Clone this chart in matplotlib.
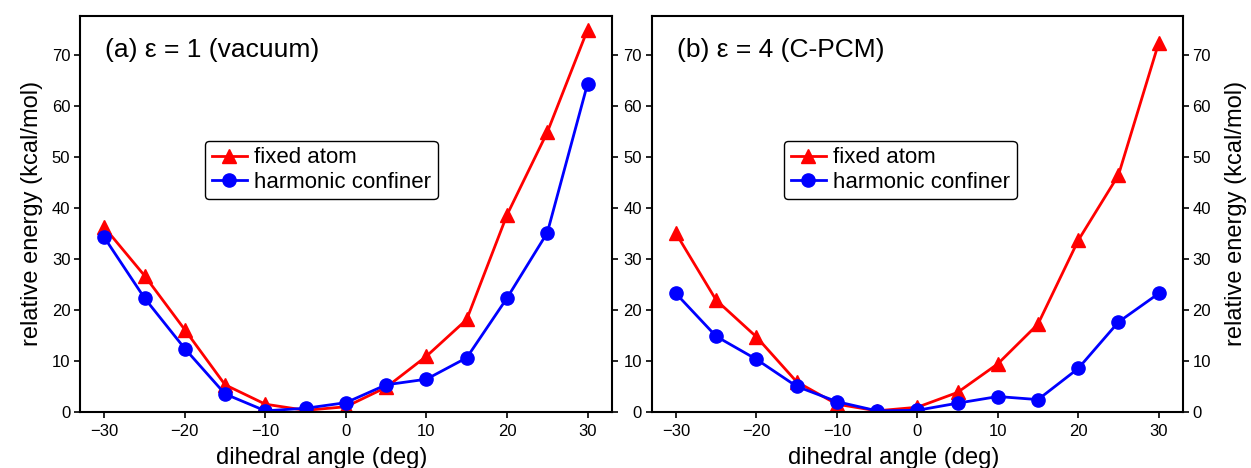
import matplotlib
matplotlib.use("Agg")
import matplotlib.pyplot as plt

plt.rcParams['font.family'] = ['Liberation Sans', 'DejaVu Sans']

# dihedral angles (deg)
angles = [-30, -25, -20, -15, -10, -5, 0, 5, 10, 15, 20, 25, 30]

# (a) vacuum
vac_fixed = [36.2, 26.7, 16.1, 5.3, 1.5, 0.3, 1.0, 4.8, 10.9, 18.1, 38.6, 54.8, 74.9]
vac_harm = [34.2, 22.3, 12.4, 3.5, 0.2, 0.7, 1.8, 5.3, 6.4, 10.6, 22.3, 35.1, 64.3]

# (b) C-PCM
pcm_fixed = [35.0, 21.9, 14.7, 5.9, 1.5, 0.2, 0.9, 3.8, 9.4, 17.2, 33.6, 46.4, 72.3]
pcm_harm = [23.2, 14.8, 10.3, 5.0, 2.0, 0.2, 0.3, 1.7, 3.0, 2.4, 8.5, 17.6, 23.2]

titles = ["(a) \u03b5 = 1 (vacuum)", "(b) \u03b5 = 4 (C-PCM)"]
yticks = [0, 10, 20, 30, 40, 50, 60, 70]
xticks = [-30, -20, -10, 0, 10, 20, 30]

fig = plt.figure(figsize=(12.51, 4.68), dpi=100)
ax1 = fig.add_axes([0.064, 0.120, 0.425, 0.846])
ax2 = fig.add_axes([0.521, 0.120, 0.4245, 0.846])

panels = [(ax1, vac_fixed, vac_harm), (ax2, pcm_fixed, pcm_harm)]
for i, (ax, fixed, harm) in enumerate(panels):
    ax.plot(angles, fixed, color="red", marker="^", markersize=10, linewidth=2,
            label="fixed atom")
    ax.plot(angles, harm, color="blue", marker="o", markersize=9.5, linewidth=2,
            label="harmonic confiner")
    ax.set_xlim(-33, 33)
    ax.set_ylim(0, 77.6)
    ax.set_xticks(xticks)
    ax.set_xticklabels([f"{t}".replace("-", "\u2212") for t in xticks])
    ax.set_yticks(yticks)
    ax.tick_params(axis="both", direction="out", labelsize=12, width=1.2,
                   length=4, pad=3)
    ax.tick_params(axis="x", pad=5)
    ax.tick_params(axis="y", left=True, right=True)
    for s in ax.spines.values():
        s.set_linewidth(1.5)
    ax.set_xlabel("dihedral angle (deg)", fontsize=17)
    ax.xaxis.set_label_coords(0.455, -0.088)
    ax.text(0.047, 0.915, titles[i], transform=ax.transAxes, fontsize=19,
            ha="left", va="center")
    leg = ax.legend(loc="upper left", bbox_to_anchor=(0.235 if i == 0 else 0.249, 0.685),
                    fontsize=16, frameon=True, fancybox=True, edgecolor="black",
                    framealpha=1, handlelength=1.6, handletextpad=0.3,
                    borderpad=0.3, labelspacing=0.15, borderaxespad=0)
    leg.get_frame().set_linewidth(1.0)

ax1.set_ylabel("relative energy (kcal/mol)", fontsize=17, labelpad=6)
ax2.yaxis.set_label_position("right")
ax2.tick_params(axis="y", labelleft=True, labelright=True)
ax2.set_ylabel("relative energy (kcal/mol)", fontsize=17, labelpad=10)

fig.savefig("out.png", dpi=100)
